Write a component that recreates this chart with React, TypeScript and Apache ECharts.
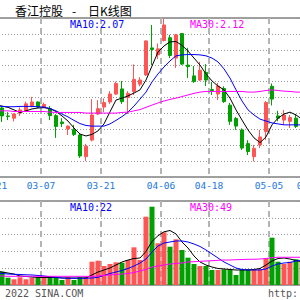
import React, { useEffect, useRef } from 'react';
import * as echarts from 'echarts';

// trading days shown on the category axis (the first label sits 8 candles before 03-07)
const dates = [
  '02-17', '02-18', '02-21', '02-22', '02-23', '02-24', '02-25', '02-28', '03-01', '03-02',
  '03-07', '03-08', '03-09', '03-10', '03-11', '03-14', '03-15', '03-16', '03-17', '03-18',
  '03-21', '03-22', '03-23', '03-24', '03-25', '03-28', '03-29', '03-30', '03-31', '04-01',
  '04-06', '04-07', '04-08', '04-11', '04-12', '04-13', '04-14', '04-15',
  '04-18', '04-19', '04-20', '04-21', '04-22', '04-25', '04-26', '04-27', '04-28', '04-29',
  '05-05', '05-06', '05-09', '05-10', '05-11', '05-12', '05-13', '05-16',
];
const labelDates = ['02-21', '03-07', '03-21', '04-06', '04-18', '05-05', '05-16'];

const N = null;
const open = [N, N, N,
  2.067, 2.042, 2.035, 2.051, 2.059, 2.072, 2.086, 2.069, 2.065, 2.043, 2.023, 2.001, 1.999, 1.982, 1.914, 1.966,
  2.048, 2.070, 2.086, 2.111, 2.127, 2.100, 2.119, 2.142, 2.171, 2.256, 2.234, 2.279, 2.288, 2.224, 2.301, 2.202,
  2.168, 2.155, 2.179, 2.125, 2.111, 2.128, 2.076, 2.034, 1.998, 1.955, 1.914, 1.951, 1.993, 2.135, 2.042, 2.029,
  2.025, 2.035, 1.995, N, N];
const close = [N, N, N,
  2.042, 2.040, 2.048, 2.061, 2.080, 2.086, 2.070, 2.078, 2.043, 2.009, 2.018, 2.010, 1.984, 1.916, 1.947, 2.045,
  2.065, 2.084, 2.111, 2.144, 2.087, 2.113, 2.157, 2.155, 2.278, 2.251, 2.253, 2.328, 2.232, 2.297, 2.205, 2.197,
  2.150, 2.186, 2.155, 2.122, 2.136, 2.087, 2.025, 2.010, 1.941, 1.930, 1.940, 1.976, 2.084, 2.095, 2.035, 2.045,
  2.037, 2.009, 2.007, N, N];
const low = [N, N, N,
  2.023, 2.029, 2.025, 2.042, 2.056, 2.069, 2.067, 2.067, 2.029, 1.973, 2.007, 1.982, 1.979, 1.910, 1.900, 1.962,
  2.045, 2.054, 2.080, 2.108, 2.080, 2.048, 2.108, 2.135, 2.168, 2.202, 2.221, 2.276, 2.224, 2.193, 2.202, 2.161,
  2.146, 2.152, 2.136, 2.108, 2.092, 2.083, 2.014, 1.998, 1.935, 1.919, 1.899, 1.941, 1.966, 2.075, 2.025, 2.014,
  2.004, 2.004, 1.992, N, N];
const high = [N, N, N,
  2.072, 2.054, 2.050, 2.069, 2.087, 2.102, 2.087, 2.084, 2.073, 2.048, 2.035, 2.012, 2.014, 1.987, 1.954, 2.095,
  2.092, 2.097, 2.120, 2.150, 2.152, 2.120, 2.204, 2.164, 2.279, 2.328, 2.270, 2.348, 2.297, 2.300, 2.303, 2.256,
  2.199, 2.212, 2.205, 2.149, 2.146, 2.135, 2.083, 2.039, 2.003, 1.966, 1.951, 1.998, 2.089, 2.144, 2.058, 2.061,
  2.045, 2.048, 2.017, N, N];

const ma5 = [N, N,
  2.076, 2.073, 2.069, 2.061, 2.053, 2.058, 2.064, 2.067, 2.068, 2.065, 2.056, 2.042, 2.026, 2.004, 1.985, 1.979,
  1.984, 1.995, 2.017, 2.055, 2.092, 2.098, 2.105, 2.114, 2.124, 2.155, 2.199, 2.243, 2.262, 2.275, 2.276, 2.264,
  2.246, 2.224, 2.202, 2.174, 2.152, 2.136, 2.124, 2.098, 2.061, 2.029, 1.998, 1.973, 1.958, 1.976, 2.014, 2.035,
  2.048, 2.054, 2.045, 2.032, N, N];
const ma10 = [N, N,
  2.075, 2.072, 2.071, 2.071, 2.072, 2.072, 2.072, 2.071, 2.070, 2.065, 2.058, 2.048, 2.039, 2.028, 2.018, 2.012,
  2.010, 2.010, 2.010, 2.017, 2.028, 2.040, 2.054, 2.073, 2.095, 2.117, 2.149, 2.174, 2.196, 2.215, 2.231, 2.234,
  2.235, 2.235, 2.234, 2.231, 2.224, 2.212, 2.190, 2.161, 2.124, 2.089, 2.061, 2.045, 2.032, 2.026, 2.020, 2.017,
  2.014, 2.014, 2.014, 2.014, N, N];
const ma30 = [N, N,
  2.059, 2.058, 2.058, 2.056, 2.056, 2.056, 2.056, 2.056, 2.056, 2.054, 2.053, 2.053, 2.053, 2.053, 2.053, 2.051,
  2.051, 2.051, 2.051, 2.051, 2.051, 2.053, 2.054, 2.058, 2.062, 2.069, 2.076, 2.083, 2.089, 2.094, 2.098, 2.103,
  2.108, 2.113, 2.117, 2.119, 2.119, 2.119, 2.119, 2.119, 2.119, 2.119, 2.117, 2.117, 2.119, 2.122, 2.124, 2.122,
  2.120, 2.119, 2.117, 2.117, N, N];

const volume = [N, N, N,
  23.8, 13.0, 10.2, 13.8, 10.2, 13.0, 13.0, 14.8, 13.8, 13.8, 8.9, 13.8, 8.9, 13.8, 14.8, 41.6,
  43.4, 33.9, 37.5, 40.5, 39.8, 44.6, 67.3, 44.6, 122.0, 139.8, 74.5, 94.1, 68.4, 81.6, 62.5, 48.8,
  37.5, 33.9, 33.9, 26.8, 26.8, 28.0, 28.0, 17.9, 28.0, 28.0, 28.0, 28.0, 47.7, 84.5, 41.6, 37.5,
  41.6, 45.9, 43.4, N, N];
const volMa5 = [N, N,
  25.0, 23.2, 21.4, 19.6, 16.1, 15.2, 14.3, 13.4, 13.4, 13.4, 13.4, 12.5, 12.5, 12.5, 12.5, 12.5,
  17.9, 23.2, 26.8, 30.4, 35.7, 41.1, 44.6, 47.3, 48.2, 60.0, 78.0, 88.0, 95.0, 97.3, 91.1, 76.8,
  66.1, 51.8, 41.1, 35.7, 32.1, 29.5, 28.6, 27.7, 26.8, 26.8, 26.8, 27.7, 29.5, 35.7, 42.9, 47.3,
  48.2, 46.4, 43.8, 41.1, N, N];
const volMa10 = [N, N,
  21.4, 20.5, 19.6, 19.1, 18.8, 18.2, 17.9, 17.0, 16.1, 14.8, 13.8, 12.5, 12.0, 12.0, 12.0, 12.0,
  12.5, 13.8, 17.0, 20.5, 23.2, 25.9, 29.5, 33.9, 39.3, 46.4, 58.9, 69.6, 75.0, 76.8, 78.6, 78.6,
  76.8, 73.2, 68.8, 62.5, 55.4, 48.2, 41.1, 35.7, 30.4, 27.7, 26.8, 26.8, 26.8, 28.6, 33.9, 37.5,
  39.3, 40.2, 42.9, 43.8, N, N];
const volMa30 = [N, N,
  16.1, 16.1, 15.5, 15.5, 15.5, 15.5, 15.5, 15.5, 15.5, 15.5, 15.5, 15.5, 15.5, 15.5, 15.5, 15.5,
  15.5, 16.1, 17.0, 17.9, 18.8, 19.6, 20.5, 22.3, 25.0, 27.7, 32.1, 33.9, 35.7, 37.5, 38.4, 39.3,
  41.1, 41.6, 42.3, 42.9, 43.4, 44.1, 44.6, 44.6, 45.2, 45.5, 45.9, 45.9, 46.4, 47.3, 48.8, 49.5,
  49.5, 49.5, 49.5, 49.5, N, N];

const priceScale = [1.85, 2.35, 0.05];
const volScale = [0, 150, 30];
const titleParts = ['香江控股', '-', '日K线图'];
const priceLegend = ['MA10:2.07', 'MA30:2.12'];
const volLegend = ['MA10:22', 'MA30:49'];
const footer = ['2022 SINA.COM', 'http:'];

const RED = '#ff5555';
const GREEN = '#00a000';
const MONO = '"DejaVu Sans Mono", monospace';

export default function App() {
  const ref = useRef<HTMLDivElement>(null);
  useEffect(() => {
    document.body.style.margin = '0';
    const chart = echarts.init(ref.current!, null, { renderer: 'svg' });
    const candleData = dates.map((_, i) =>
      open[i] == null ? ['-', '-', '-', '-'] : [open[i], close[i], low[i], high[i]]
    );
    const volData = dates.map((_, i) =>
      volume[i] == null
        ? '-'
        : { value: volume[i], itemStyle: { color: (close[i] as number) > (open[i] as number) ? RED : GREEN } }
    );
    const isLabel = (_i: number, v: string) => labelDates.indexOf(v) >= 0;
    const dashed = {
      show: true,
      interval: isLabel,
      lineStyle: { color: '#b4b4b4', width: 2, type: [6, 4] },
    };
    const dotted = { show: true, lineStyle: { color: '#999', width: 1, type: [1, 2] } };
    const xBase = {
      type: 'category',
      data: dates,
      boundaryGap: true,
      axisLine: { show: false },
      axisTick: { show: false },
      splitLine: dashed,
    };
    const line = (data: any[], color: string, xi: number) => ({
      type: 'line',
      data,
      xAxisIndex: xi,
      yAxisIndex: xi,
      symbol: 'none',
      smooth: false,
      lineStyle: { color, width: 1 },
      z: 5,
    });
    const txt = (text: string, x: number, y: number, fill: string, font: string) => ({
      type: 'text',
      x,
      y,
      style: { text, fill, font, verticalAlign: 'middle', textAlign: 'left' },
      z: 10,
    });
    const gridBase = {
      left: -19,
      width: 336,
      show: true,
      borderColor: '#a0a0a0',
      borderWidth: 2,
      backgroundColor: 'transparent',
      containLabel: false,
      outerBoundsMode: 'none',
    };
    chart.setOption({
      animation: false,
      backgroundColor: '#ffffff',
      grid: [
        { ...gridBase, top: 18, height: 159 },
        { ...gridBase, top: 201, height: 84 },
      ],
      xAxis: [
        {
          ...xBase,
          gridIndex: 0,
          axisLabel: {
            show: true,
            interval: isLabel,
            color: '#2277dd',
            fontFamily: MONO,
            fontSize: 9.5,
            margin: 3,
            padding: [0, 6, 0, 0],
          },
        },
        { ...xBase, gridIndex: 1, axisLabel: { show: false } },
      ],
      yAxis: [
        {
          type: 'value', gridIndex: 0, min: priceScale[0], max: priceScale[1], interval: priceScale[2],
          axisLabel: { show: false }, axisLine: { show: false }, axisTick: { show: false }, splitLine: dotted,
        },
        {
          type: 'value', gridIndex: 1, min: volScale[0], max: volScale[1], interval: volScale[2],
          axisLabel: { show: false }, axisLine: { show: false }, axisTick: { show: false }, splitLine: dotted,
        },
      ],
      series: [
        {
          type: 'candlestick',
          xAxisIndex: 0,
          yAxisIndex: 0,
          data: candleData,
          barWidth: 4,
          itemStyle: { color: RED, color0: GREEN, borderColor: RED, borderColor0: GREEN, borderWidth: 1 },
          z: 3,
        },
        line(ma5, '#000000', 0),
        line(ma10, '#0000ff', 0),
        line(ma30, '#ff00ff', 0),
        {
          type: 'bar',
          xAxisIndex: 1,
          yAxisIndex: 1,
          data: volData,
          barWidth: 5,
          z: 3,
        },
        line(volMa5, '#000000', 1),
        line(volMa10, '#0000ff', 1),
        line(volMa30, '#ff00ff', 1),
      ],
      graphic: [
        txt(titleParts[0], 15, 10, '#000', '12px "Noto Sans CJK SC"'),
        txt(titleParts[1], 72, 10, '#000', '12px "Noto Sans CJK SC"'),
        txt(titleParts[2], 88, 10, '#000', '12px "Noto Sans CJK SC"'),
        txt(priceLegend[0], 70, 24, '#0000ff', '10px ' + MONO),
        txt(priceLegend[1], 190, 24, '#ff00ff', '10px ' + MONO),
        txt(volLegend[0], 70, 207, '#0000ff', '10px ' + MONO),
        txt(volLegend[1], 190, 207, '#ff00ff', '10px ' + MONO),
        txt(footer[0], 5, 293, '#555', '10px ' + MONO),
        txt(footer[1], 268, 293, '#555', '10px ' + MONO),
      ],
    });
    return () => chart.dispose();
  }, []);
  return <div ref={ref} style={{ position: 'fixed', left: 0, top: 0, width: 300, height: 300 }} />;
}
